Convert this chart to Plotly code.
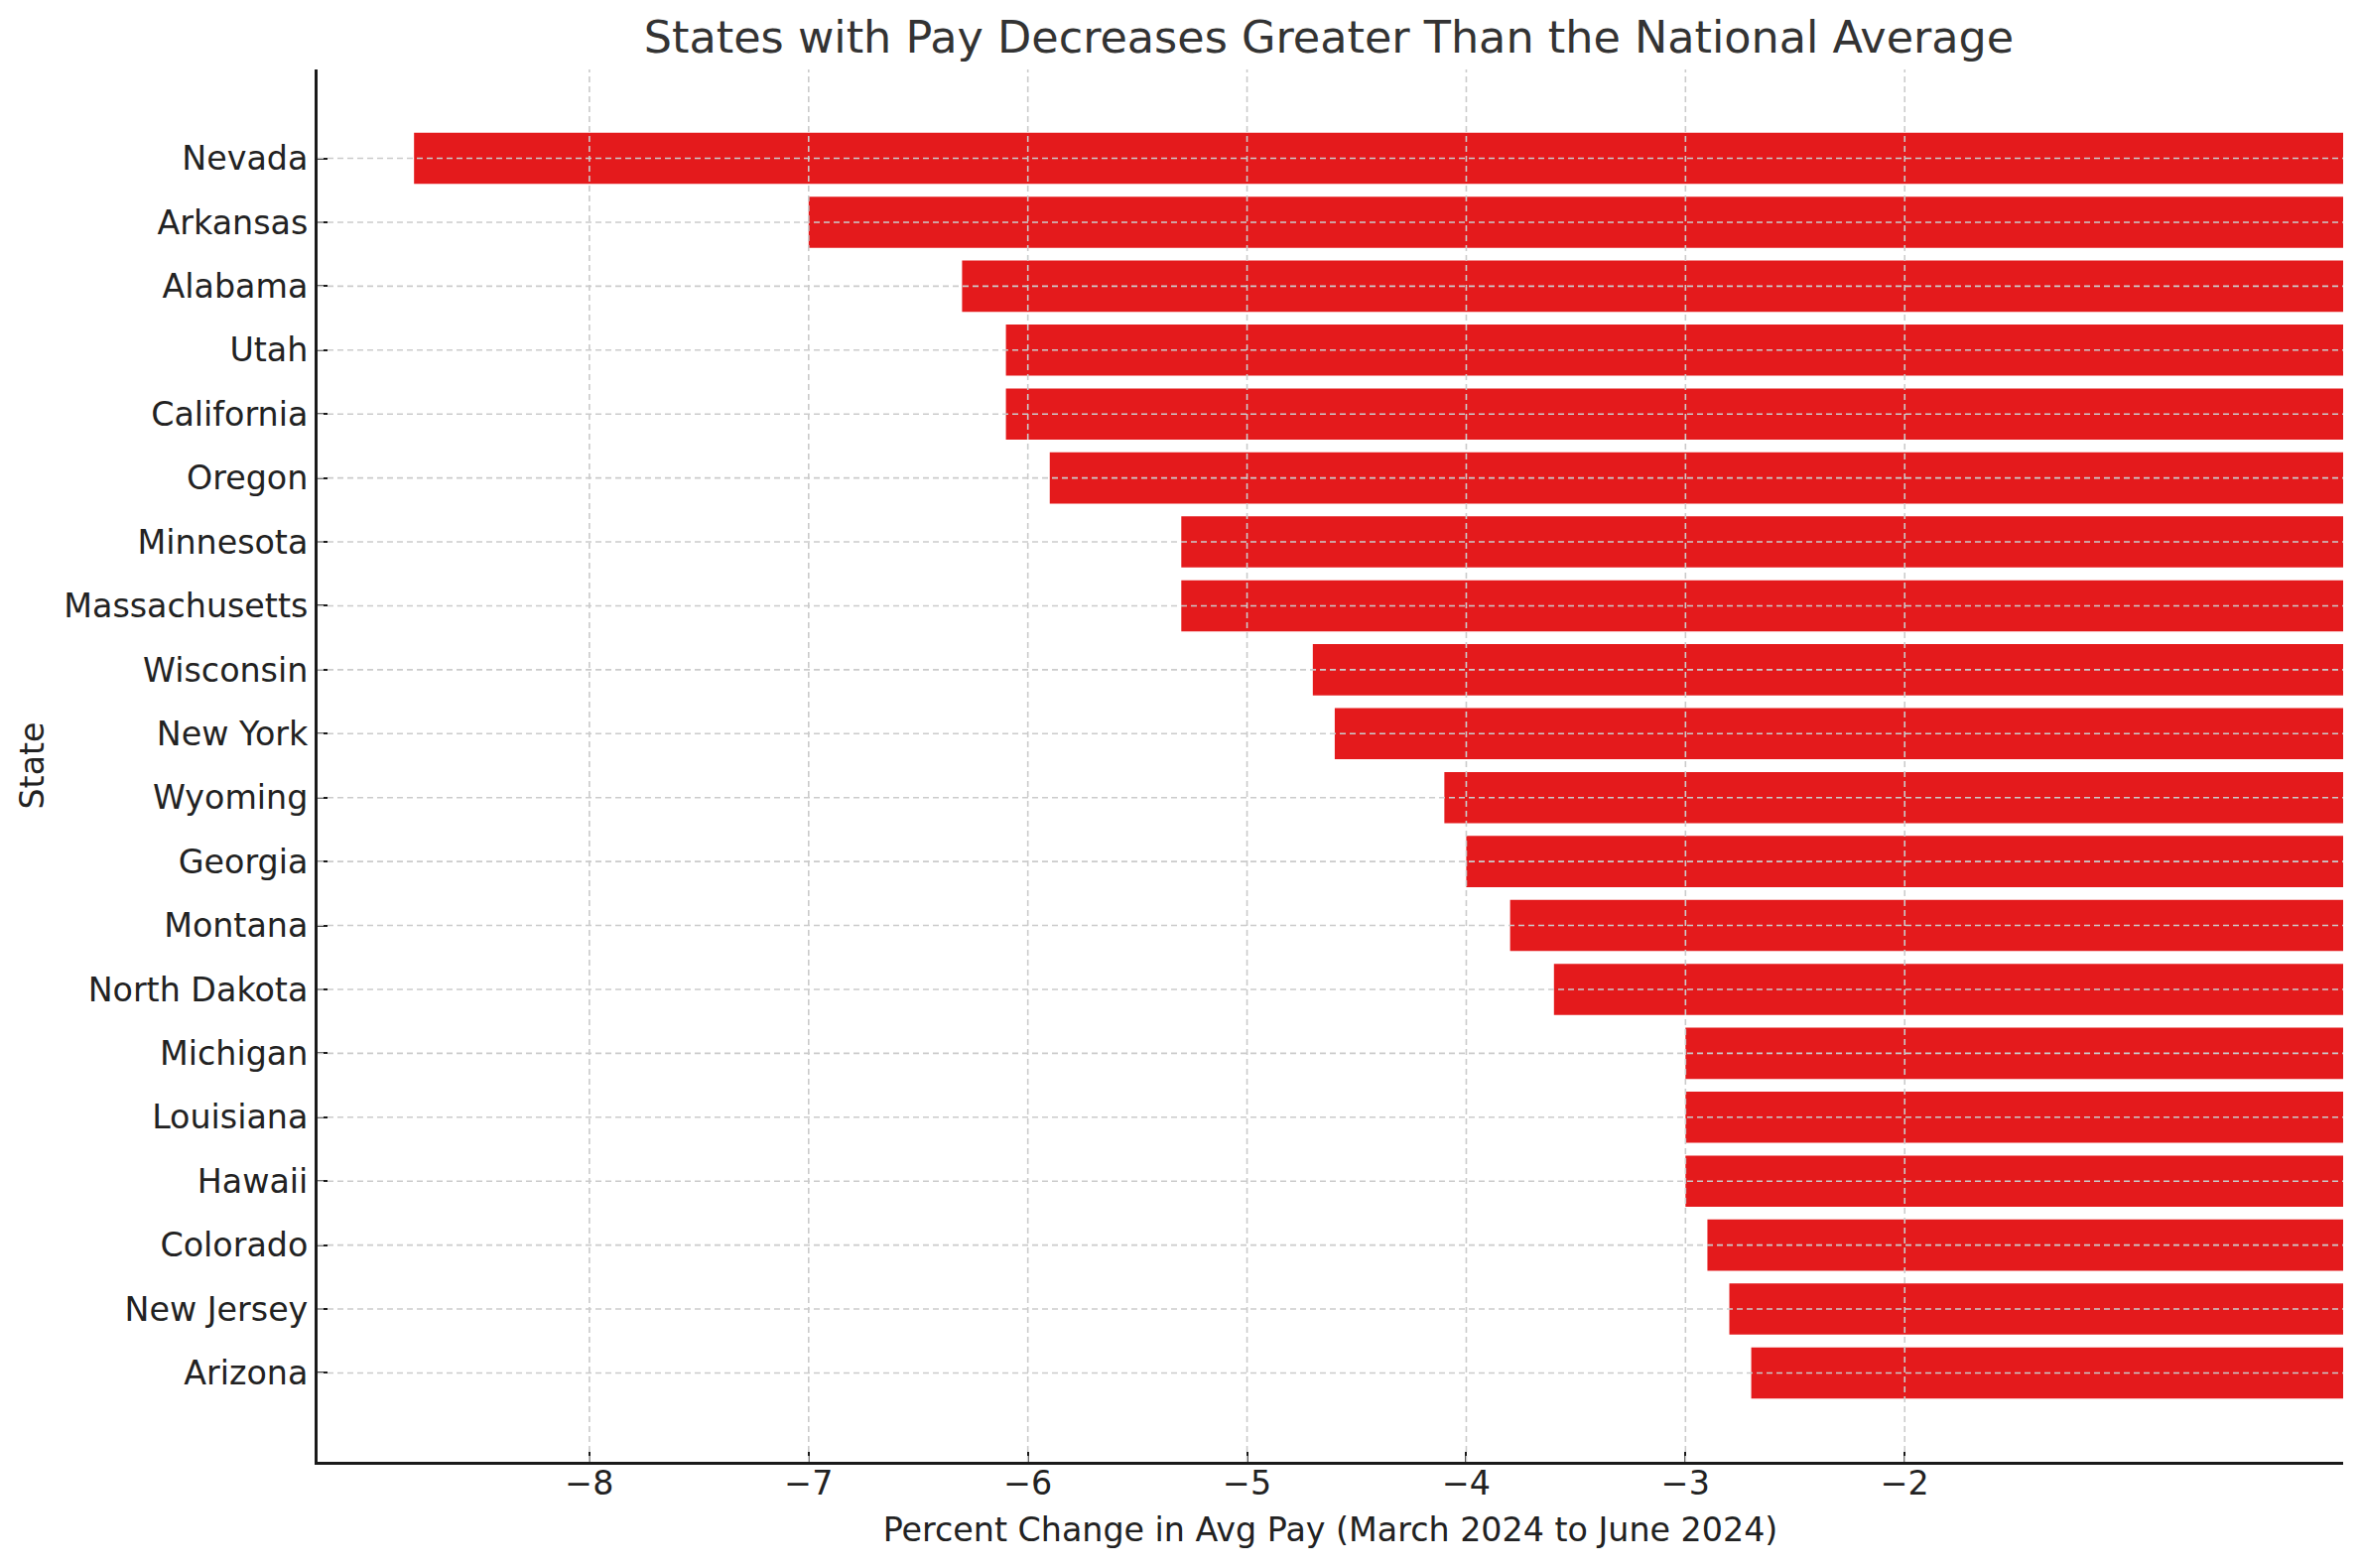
import plotly.graph_objects as go

states = ["Nevada", "Arkansas", "Alabama", "Utah", "California", "Oregon",
          "Minnesota", "Massachusetts", "Wisconsin", "New York", "Wyoming",
          "Georgia", "Montana", "North Dakota", "Michigan", "Louisiana",
          "Hawaii", "Colorado", "New Jersey", "Arizona"]
pct_change = [-8.8, -7.0, -6.3, -6.1, -6.1, -5.9, -5.3, -5.3, -4.7, -4.6,
              -4.1, -4.0, -3.8, -3.6, -3.0, -3.0, -3.0, -2.9, -2.8, -2.7]
x_tickvals = [-8, -7, -6, -5, -4, -3, -2]
x_ticktext = ["\u22128", "\u22127", "\u22126", "\u22125", "\u22124", "\u22123", "\u22122"]

# page body has an 8px margin, so the figure is sized to fit the window
W, H = 2371, 1572
FONT = "DejaVu Sans"
GRID = "#cbcbcb"
TXT = "#222222"

fig = go.Figure()
fig.add_trace(go.Bar(
    x=pct_change, y=states, orientation="h",
    marker=dict(color="#e41a1c", line=dict(width=0)),
    width=0.8,
))

n = len(states)
xmin = min(pct_change)
xspan = 0 - xmin
ylo, yhi = -0.4, n - 1 + 0.4
ymarg = 0.05 * (yhi - ylo)

shapes = []
for v in x_tickvals:
    shapes.append(dict(type="line", xref="x", yref="paper", x0=v, x1=v, y0=0, y1=1,
                       line=dict(color=GRID, width=1.6, dash="6px,4px"), layer="above"))
for s in states:
    shapes.append(dict(type="line", xref="paper", yref="y", x0=0, x1=1, y0=s, y1=s,
                       line=dict(color=GRID, width=1.6, dash="6px,4px"), layer="above"))

L, R, T, B = 312, 18, 62, 107

fig.update_layout(
    width=W, height=H,
    margin=dict(l=L, r=R, t=T, b=B),
    paper_bgcolor="white", plot_bgcolor="white",
    font=dict(family=FONT, size=33.3, color=TXT),
    showlegend=False,
    shapes=shapes,
    title=dict(text="States with Pay Decreases Greater Than the National Average",
               x=(L + (W - R)) / 2 / W - 1.5 / W, xanchor="center", y=1 - 29 / H, yanchor="middle",
               font=dict(size=44.5, color="#333333", family=FONT)),
    xaxis=dict(
        range=[xmin - 0.05 * xspan, 0],
        tickvals=x_tickvals, ticktext=x_ticktext,
        showgrid=False, zeroline=False,
        showline=True, linecolor="#1a1a1a", linewidth=3,
        ticks="inside", ticklen=10, tickwidth=2, tickcolor="#1a1a1a",
        tickfont=dict(size=33.3, color=TXT),
        ticklabelstandoff=-10,
        title=dict(text="Percent Change in Avg Pay (March 2024 to June 2024)",
                   font=dict(size=33.3, color=TXT), standoff=17),
        automargin=False,
    ),
    yaxis=dict(
        type="category",
        range=[yhi + ymarg, ylo - ymarg],
        showgrid=False, zeroline=False,
        showline=True, linecolor="#1a1a1a", linewidth=3,
        ticks="inside", ticklen=10, tickwidth=2, tickcolor="#1a1a1a",
        tickfont=dict(size=33.3, color=TXT),
        title=dict(text="State", font=dict(size=33.3, color=TXT), standoff=10),
        automargin=False,
    ),
)

fig.write_html("out.html")
